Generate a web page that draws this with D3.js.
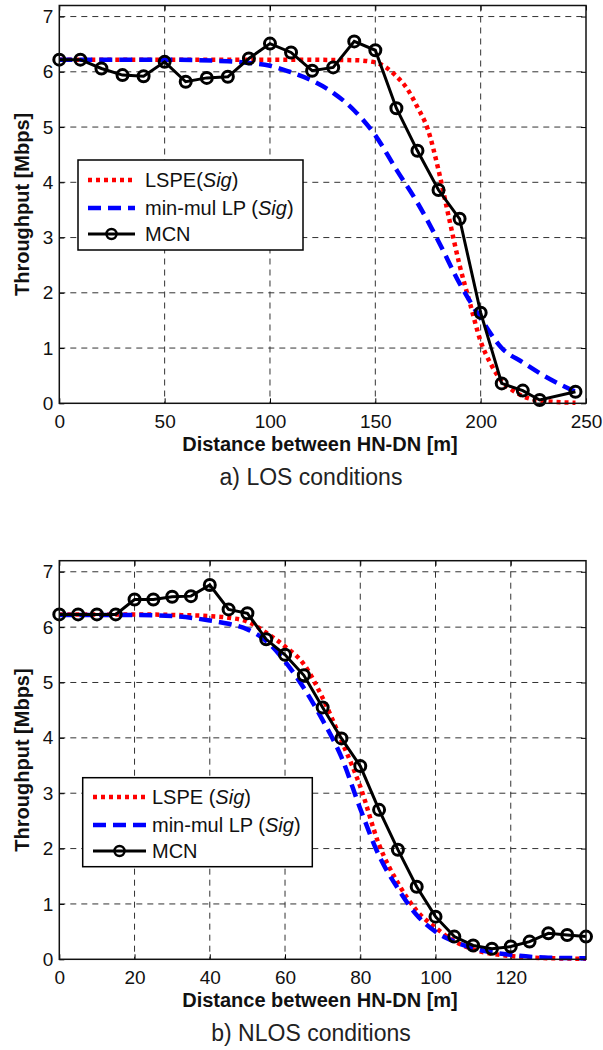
<!DOCTYPE html>
<html>
<head>
<meta charset="utf-8">
<script src="https://cdn.jsdelivr.net/npm/d3@7"></script>
<style>
  body { margin: 0; background: #fff; }
  svg { display: block; }
  text { font-family: "Liberation Sans", Arial, sans-serif; }
</style>
</head>
<body>
<svg id="chart" width="603" height="1050"></svg>
<script>
// ---- data: a) LOS ----
const losMcnX = [0, 10, 20, 30, 40, 50, 60, 70, 80, 90, 100, 110, 120, 130, 140, 150, 160, 170, 180, 190, 200, 210, 220, 228, 245];
const losMcnY = [6.22, 6.22, 6.06, 5.94, 5.92, 6.18, 5.82, 5.89, 5.91, 6.24, 6.51, 6.35, 6.02, 6.08, 6.55, 6.39, 5.34, 4.57, 3.86, 3.34, 1.64, 0.36, 0.23, 0.06, 0.21];
const losLspeX = [0, 50, 100, 140, 150, 155, 160, 165, 170, 175, 180, 185, 190, 195, 200, 205, 210, 215, 220, 230, 245];
const losLspeY = [6.22, 6.22, 6.22, 6.21, 6.17, 6.08, 5.92, 5.7, 5.36, 4.95, 4.22, 3.35, 2.5, 1.8, 1.12, 0.7, 0.4, 0.24, 0.13, 0.04, 0.01];
const losMinX = [0, 50, 80, 90, 100, 110, 120, 130, 140, 150, 160, 170, 180, 190, 200, 210, 220, 230, 240, 245];
const losMinY = [6.22, 6.22, 6.19, 6.16, 6.11, 5.99, 5.84, 5.62, 5.3, 4.85, 4.23, 3.63, 2.93, 2.17, 1.54, 1.0, 0.74, 0.5, 0.3, 0.21];
const losXTicks = [0, 50, 100, 150, 200, 250];

// ---- data: b) NLOS ----
const nlosMcnX = [0, 5, 10, 15, 20, 25, 30, 35, 40, 45, 50, 55, 60, 65, 70, 75, 80, 85, 90, 95, 100, 105, 110, 115, 120, 125, 130, 135, 140];
const nlosMcnY = [6.23, 6.23, 6.23, 6.23, 6.5, 6.5, 6.55, 6.56, 6.76, 6.32, 6.25, 5.78, 5.5, 5.13, 4.55, 3.99, 3.49, 2.7, 1.98, 1.31, 0.77, 0.41, 0.25, 0.19, 0.23, 0.32, 0.47, 0.44, 0.41];
const nlosLspeX = [0, 20, 30, 40, 45, 50, 55, 60, 65, 70, 75, 80, 85, 90, 95, 100, 105, 110, 115, 120, 130, 140];
const nlosLspeY = [6.23, 6.23, 6.22, 6.2, 6.17, 6.1, 5.9, 5.65, 5.33, 4.72, 3.95, 3.12, 2.07, 1.38, 0.88, 0.57, 0.33, 0.18, 0.1, 0.06, 0.02, 0.01];
const nlosMinX = [0, 20, 30, 40, 45, 50, 55, 60, 65, 70, 75, 80, 85, 90, 95, 100, 105, 110, 120, 130, 140];
const nlosMinY = [6.22, 6.22, 6.2, 6.12, 6.06, 5.96, 5.75, 5.38, 4.9, 4.32, 3.65, 2.72, 1.87, 1.28, 0.8, 0.5, 0.32, 0.2, 0.08, 0.03, 0.02];
const nlosXTicks = [0, 20, 40, 60, 80, 100, 120];

const yTicks = [0, 1, 2, 3, 4, 5, 6, 7];

const svg = d3.select("#chart");
const PLOT_LEFT = 59.3, PLOT_RIGHT = 586;

const zip = (xs, ys) => xs.map((x, i) => ({ x: x, y: ys[i] }));

function drawPanel(cfg) {
  const xScale = d3.scaleLinear().domain(cfg.xDomain).range([PLOT_LEFT, PLOT_RIGHT]);
  const yScale = d3.scaleLinear().domain([0, 7.2]).range([cfg.bottom, cfg.top]);
  const g = svg.append("g");

  // grid
  g.selectAll(".vgrid").data(cfg.xTicks.filter(d => d > cfg.xDomain[0] && d < cfg.xDomain[1]))
    .enter().append("line")
    .attr("x1", d => xScale(d)).attr("x2", d => xScale(d))
    .attr("y1", cfg.top).attr("y2", cfg.bottom)
    .attr("stroke", "#333").attr("stroke-width", 1).attr("stroke-dasharray", "6,5");
  g.selectAll(".hgrid").data(yTicks.filter(d => d > 0))
    .enter().append("line")
    .attr("x1", PLOT_LEFT).attr("x2", PLOT_RIGHT)
    .attr("y1", d => yScale(d)).attr("y2", d => yScale(d))
    .attr("stroke", "#333").attr("stroke-width", 1).attr("stroke-dasharray", "6,5");

  // axes (ticks inside, like matlab)
  const xa = g.append("g").attr("transform", "translate(0," + cfg.bottom + ")")
    .call(d3.axisBottom(xScale).tickValues(cfg.xTicks).tickSizeInner(-5).tickSizeOuter(0).tickPadding(11.5));
  const ya = g.append("g").attr("transform", "translate(" + PLOT_LEFT + ",0)")
    .call(d3.axisLeft(yScale).tickValues(yTicks).tickSizeInner(-5).tickSizeOuter(0).tickPadding(6));
  g.append("g").attr("transform", "translate(" + PLOT_RIGHT + ",0)")
    .call(d3.axisRight(yScale).tickValues(yTicks).tickSizeInner(-5).tickSizeOuter(0).tickFormat(""));
  g.append("g").attr("transform", "translate(0," + cfg.top + ")")
    .call(d3.axisTop(xScale).tickValues(cfg.xTicks).tickSizeInner(-5).tickSizeOuter(0).tickFormat(""));
  g.selectAll(".domain").remove();
  g.selectAll(".tick line").attr("stroke", "#000").attr("stroke-width", 1);
  xa.selectAll("text").attr("font-size", 19).attr("fill", "#111").attr("font-family", "Liberation Sans, Arial");
  ya.selectAll("text").attr("font-size", 19).attr("fill", "#111").attr("font-family", "Liberation Sans, Arial");

  // series
  const line = d3.line().x(d => xScale(d.x)).y(d => yScale(d.y)).curve(d3.curveMonotoneX);
  const straight = d3.line().x(d => xScale(d.x)).y(d => yScale(d.y));

  g.append("path").datum(zip(cfg.lspeX, cfg.lspeY)).attr("d", line)
    .attr("fill", "none").attr("stroke", "#ff0000").attr("stroke-width", 4.5).attr("stroke-dasharray", "4,4");
  g.append("path").datum(zip(cfg.minX, cfg.minY)).attr("d", line)
    .attr("fill", "none").attr("stroke", "#0000ff").attr("stroke-width", 4.5).attr("stroke-dasharray", "13,7");
  const mcn = zip(cfg.mcnX, cfg.mcnY);
  g.append("path").datum(mcn).attr("d", straight)
    .attr("fill", "none").attr("stroke", "#000").attr("stroke-width", 3);
  g.selectAll(".mk").data(mcn).enter().append("circle")
    .attr("cx", d => xScale(d.x)).attr("cy", d => yScale(d.y)).attr("r", 5.5)
    .attr("fill", "none").attr("stroke", "#000").attr("stroke-width", 3);

  // box
  g.append("rect").attr("x", PLOT_LEFT).attr("y", cfg.top)
    .attr("width", PLOT_RIGHT - PLOT_LEFT).attr("height", cfg.bottom - cfg.top)
    .attr("fill", "none").attr("stroke", "#111").attr("stroke-width", 1.5);

  // legend
  const L = cfg.legend;
  const lg = g.append("g");
  lg.append("rect").attr("x", L.x).attr("y", L.y).attr("width", L.w).attr("height", L.h)
    .attr("fill", "#fff").attr("stroke", "#000").attr("stroke-width", 1.5);
  const rows = [
    { stroke: "#ff0000", dash: "4,4", w: 4.5 },
    { stroke: "#0000ff", dash: "13,7", w: 4.5 },
    { stroke: "#000", dash: null, w: 3, marker: true }
  ];
  rows.forEach((r, i) => {
    const y = L.rowY[i];
    lg.append("line").attr("x1", L.lineX0).attr("x2", L.lineX1).attr("y1", y).attr("y2", y)
      .attr("stroke", r.stroke).attr("stroke-width", r.w).attr("stroke-dasharray", r.dash);
    if (r.marker) {
      lg.append("circle").attr("cx", (L.lineX0 + L.lineX1) / 2).attr("cy", y).attr("r", 5)
        .attr("fill", "none").attr("stroke", "#000").attr("stroke-width", 2.5);
    }
    const t = lg.append("text").attr("x", L.textX).attr("y", y + 7).attr("font-size", 20).attr("fill", "#111");
    L.labels[i].forEach(part => {
      t.append("tspan").text(part[0]).attr("font-style", part[1] ? "italic" : "normal");
    });
  });

  // axis titles
  svg.append("text").attr("transform", "translate(29," + ((cfg.top + cfg.bottom) / 2) + ") rotate(-90)")
    .attr("text-anchor", "middle").attr("font-size", 20).attr("font-weight", "bold").attr("fill", "#111")
    .text("Throughput [Mbps]");
  svg.append("text").attr("x", 320).attr("y", cfg.bottom + 48)
    .attr("text-anchor", "middle").attr("font-size", 20).attr("font-weight", "bold").attr("fill", "#111")
    .text("Distance between HN-DN [m]");
  svg.append("text").attr("x", 311).attr("y", cfg.bottom + 82)
    .attr("text-anchor", "middle").attr("font-size", 23).attr("fill", "#222")
    .attr("font-family", "Open Sans, sans-serif")
    .text(cfg.caption);
}

drawPanel({
  top: 5.5, bottom: 403.3, xDomain: [0, 250], xTicks: losXTicks,
  mcnX: losMcnX, mcnY: losMcnY, lspeX: losLspeX, lspeY: losLspeY, minX: losMinX, minY: losMinY,
  caption: "a) LOS conditions",
  legend: {
    x: 78, y: 160, w: 225, h: 90, rowY: [180, 208, 234], lineX0: 88, lineX1: 135, textX: 145,
    labels: [[["LSPE(", false], ["Sig", true], [")", false]],
             [["min-mul LP (", false], ["Sig", true], [")", false]],
             [["MCN", false]]]
  }
});

drawPanel({
  top: 560.7, bottom: 959.3, xDomain: [0, 140], xTicks: nlosXTicks,
  mcnX: nlosMcnX, mcnY: nlosMcnY, lspeX: nlosLspeX, lspeY: nlosLspeY, minX: nlosMinX, minY: nlosMinY,
  caption: "b) NLOS conditions",
  legend: {
    x: 82.7, y: 777.7, w: 229.6, h: 89, rowY: [797, 825, 851], lineX0: 93, lineX1: 146, textX: 152,
    labels: [[["LSPE (", false], ["Sig", true], [")", false]],
             [["min-mul LP (", false], ["Sig", true], [")", false]],
             [["MCN", false]]]
  }
});
</script>
</body>
</html>
